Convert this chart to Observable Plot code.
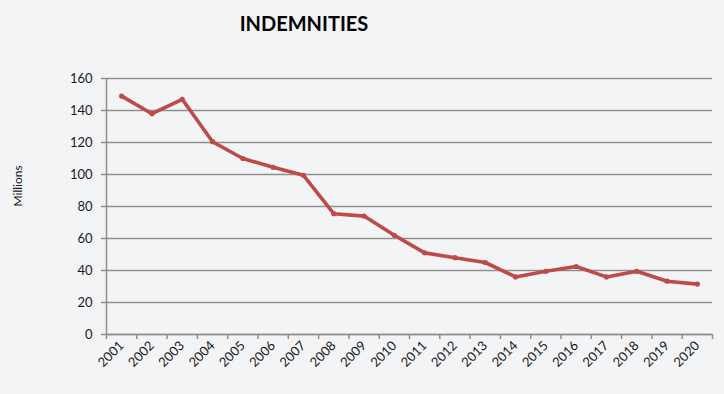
<!DOCTYPE html>
<html>
<head>
<meta charset="utf-8">
<script src="https://cdn.jsdelivr.net/npm/d3@7"></script>
<script src="https://cdn.jsdelivr.net/npm/@observablehq/plot@0.6"></script>
<style>
  html, body { margin: 0; padding: 0; background: #f3f4f6; }
  #wrap { width: 724px; height: 394px; overflow: hidden; background: #f3f4f6; }
  #title { height: 50px; width: 608px; text-align: center; font-family: Lato, "Open Sans", sans-serif; font-weight: bold; font-size: 20px; line-height: 46px; color: #000; }
  svg { display: block; }
</style>
</head>
<body>
<div id="wrap">
  <div id="title">INDEMNITIES</div>
  <div id="chart"></div>
</div>
<script>
const years = [2001, 2002, 2003, 2004, 2005, 2006, 2007, 2008, 2009, 2010,
               2011, 2012, 2013, 2014, 2015, 2016, 2017, 2018, 2019, 2020];
const indemnities = [149, 138, 147, 120.5, 110, 104.5, 99.5, 75.5, 74, 62,
                     51, 48, 45, 36, 39.5, 42.5, 36, 39.5, 33.3, 31.5];
const yTicks = [0, 20, 40, 60, 80, 100, 120, 140, 160];
const yLabel = "Millions";

const data = years.map((year, i) => ({year, value: indemnities[i]}));
const boundaries = years.map(y => y - 0.5).concat([years[years.length - 1] + 0.5]);

const gray = "#8f8f8f";
const red = "#be4b48";

const chart = Plot.plot({
  width: 724,
  height: 344,
  marginLeft: 106,
  marginRight: 12,
  marginTop: 28,
  marginBottom: 60,
  style: { background: "transparent", fontFamily: "Lato, 'Open Sans', sans-serif", fontSize: "13px", color: "#1a1a1a" },
  x: { type: "linear", domain: [boundaries[0], boundaries[boundaries.length - 1]] },
  y: { domain: [0, 160] },
  marks: [
    Plot.gridY(yTicks, { stroke: gray, strokeOpacity: 1, strokeWidth: 1.5 }),
    Plot.ruleX([boundaries[0]], { stroke: gray, strokeWidth: 1.5 }),
    Plot.ruleY([0], { stroke: gray, strokeWidth: 1.5 }),
    Plot.axisY({ ticks: yTicks, tickSize: 5, tickPadding: 9, stroke: gray, strokeWidth: 1.5, label: null, fontSize: 13 }),
    Plot.axisX({ ticks: boundaries, tickSize: 5, tickFormat: () => "", stroke: gray, strokeWidth: 1.5, label: null }),
    Plot.axisX({ ticks: years, tickSize: 0, tickPadding: 9, tickRotate: -45, tickFormat: d => String(d), label: null, fontSize: 13 }),
    Plot.text([yLabel], { frameAnchor: "left", rotate: -90, dx: -88, fontSize: 12, fill: "#1a1a1a" }),
    Plot.line(data, { x: "year", y: "value", stroke: red, strokeWidth: 3.6, strokeLinejoin: "round" }),
    Plot.dot(data, { x: "year", y: "value", r: 2.6, fill: red })
  ]
});
document.getElementById("chart").appendChild(chart);
</script>
</body>
</html>
